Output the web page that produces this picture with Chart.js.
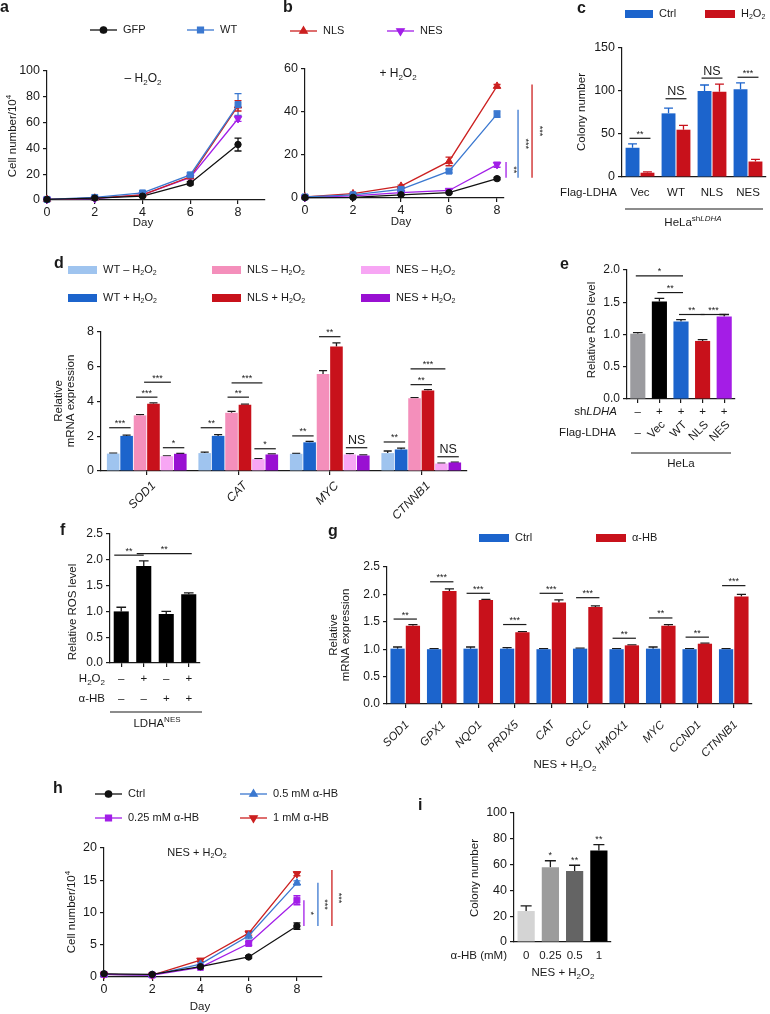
<!DOCTYPE html>
<html>
<head>
<meta charset="utf-8">
<script src="https://cdn.jsdelivr.net/npm/chart.js@4.4.0/dist/chart.umd.min.js"></script>
<style>
html, body { margin: 0; padding: 0; background: #fff; }
#wrap { position: relative; width: 770px; height: 1014px; overflow: hidden; }
#wrap canvas { position: absolute; left: 0; top: 0; }
</style>
</head>
<body>
<div id="wrap">
  <canvas id="pa" width="770" height="1014"></canvas>
  <canvas id="pb" width="770" height="1014"></canvas>
  <canvas id="pc" width="770" height="1014"></canvas>
  <canvas id="pd" width="770" height="1014"></canvas>
  <canvas id="pe" width="770" height="1014"></canvas>
  <canvas id="pf" width="770" height="1014"></canvas>
  <canvas id="pg" width="770" height="1014"></canvas>
  <canvas id="ph" width="770" height="1014"></canvas>
  <canvas id="pi" width="770" height="1014"></canvas>
</div>
<script>
// ---- data ----
// a / b: cell growth (cell number / 10^4)
const days = [0, 2, 4, 6, 8];
const curveNames = ['GFP', 'WT', 'NLS', 'NES'];
const gfpA = [0.5, 1.5, 3, 13, 43];
const wtA = [0.5, 2, 5.5, 19.5, 74];
const nlsA = [0.5, 1.5, 4, 18, 73];
const nesA = [0.5, 1, 4, 17.5, 63];
const gfpAErr = [0.3, 0.4, 0.6, 1.2, 5];
const wtAErr = [0.3, 0.4, 0.8, 1.5, 8.5];
const nlsAErr = [0.3, 0.4, 0.6, 1.2, 4];
const nesAErr = [0.2, 0.3, 0.5, 1, 2];
const gfpB = [0.2, 0.3, 1.5, 2.5, 9];
const wtB = [0.5, 1.5, 4, 12.5, 39];
const nlsB = [0.5, 2, 5.5, 17, 52];
const nesB = [0.3, 1, 2.5, 3.5, 15.5];
const gfpBErr = [0.1, 0.2, 0.3, 0.5, 0.6];
const wtBErr = [0.1, 0.3, 0.5, 0.8, 1.5];
const nlsBErr = [0.1, 0.3, 0.5, 2, 0.8];
const nesBErr = [0.1, 0.2, 0.3, 0.5, 1.2];

// c: colony number
const cGroups = ['Vec', 'WT', 'NLS', 'NES'];
const cCtrl = [34, 74, 100, 102];
const cCtrlErr = [4.5, 6, 7, 7.5];
const cH2o2 = [5, 55, 99, 18];
const cH2o2Err = [1, 5, 9, 2.5];
const cSig = ['**', 'NS', 'NS', '***'];
const cSigY = [45, 91, 115, 116];

// d: relative mRNA expression
const dGenes = ['SOD1', 'CAT', 'MYC', 'CTNNB1'];
const dSeries = ['WT – H_{2}O_{2}', 'WT + H_{2}O_{2}', 'NLS – H_{2}O_{2}', 'NLS + H_{2}O_{2}', 'NES – H_{2}O_{2}', 'NES + H_{2}O_{2}'];
const dWtMinus = [1.0, 1.03, 0.99, 1.03];
const dWtPlus = [2.02, 2.02, 1.65, 1.24];
const dNlsMinus = [3.2, 3.35, 5.58, 4.18];
const dNlsPlus = [3.87, 3.81, 7.17, 4.63];
const dNesMinus = [0.85, 0.68, 0.95, 0.43];
const dNesPlus = [0.99, 0.95, 0.89, 0.49];
const dWtMinusErr = [0.03, 0.06, 0.03, 0.12];
const dWtPlusErr = [0.05, 0.07, 0.05, 0.08];
const dNlsMinusErr = [0.04, 0.08, 0.2, 0.04];
const dNlsPlusErr = [0.05, 0.04, 0.2, 0.05];
const dNesMinusErr = [0.02, 0.03, 0.05, 0.02];
const dNesPlusErr = [0.03, 0.04, 0.04, 0.02];
// [gene, from bar, to bar, height, label]
const dSig = [
  [0, 0, 1, 2.49, '***'], [0, 2, 3, 4.25, '***'], [0, 2.6, 4, 5.11, '***'], [0, 4, 5, 1.34, '*'],
  [1, 0, 1, 2.49, '**'], [1, 2, 3, 4.25, '**'], [1, 2.3, 4, 5.07, '***'], [1, 4, 5, 1.28, '*'],
  [2, 0, 1, 2.02, '**'], [2, 2, 3, 7.73, '**'], [2, 4, 5, 1.34, 'NS'],
  [3, 0, 1, 1.67, '**'], [3, 2, 3, 4.97, '**'], [3, 2, 4, 5.88, '***'], [3, 4, 5, 0.82, 'NS']
];

// e: relative ROS level, HeLa
const eShLdha = ['–', '+', '+', '+', '+'];
const eFlag = ['–', 'Vec', 'WT', 'NLS', 'NES'];
const eRos = [1.01, 1.51, 1.2, 0.9, 1.28];
const eErr = [0.02, 0.05, 0.03, 0.02, 0.03];
const eSig = [[0, 2, 1.91, '*'], [1, 2, 1.65, '**'], [2, 3, 1.31, '**'], [3, 4, 1.31, '***']];

// f: relative ROS level, LDHA-NES
const fH2o2 = ['–', '+', '–', '+'];
const fAhb = ['–', '–', '+', '+'];
const fRos = [1.0, 1.88, 0.95, 1.33];
const fErr = [0.08, 0.1, 0.05, 0.03];
const fSig = [[0, 1, 2.09, '**'], [1, 3, 2.12, '**']];

// g: relative mRNA expression, NES + H2O2
const gGenes = ['SOD1', 'GPX1', 'NQO1', 'PRDX5', 'CAT', 'GCLC', 'HMOX1', 'MYC', 'CCND1', 'CTNNB1'];
const gCtrl = [1.01, 1.0, 1.01, 1.01, 1.0, 1.01, 1.0, 1.01, 1.0, 1.0];
const gCtrlErr = [0.03, 0.01, 0.03, 0.02, 0.01, 0.01, 0.01, 0.03, 0.01, 0.01];
const gAhb = [1.43, 2.06, 1.9, 1.31, 1.85, 1.77, 1.07, 1.43, 1.1, 1.96];
const gAhbErr = [0.02, 0.04, 0.01, 0.01, 0.05, 0.02, 0.01, 0.02, 0.01, 0.04];
const gSig = ['**', '***', '***', '***', '***', '***', '**', '**', '**', '***'];
const gSigY = [1.55, 2.23, 2.02, 1.45, 2.02, 1.94, 1.2, 1.57, 1.22, 2.16];

// h: cell growth with alpha-HB
const hNames = ['Ctrl', '0.25 mM α-HB', '0.5 mM α-HB', '1 mM α-HB'];
const hCtrl = [0.5, 0.4, 1.6, 3.1, 7.9];
const hQuarter = [0.4, 0.3, 1.5, 5.2, 11.9];
const hHalf = [0.4, 0.3, 2.0, 6.4, 14.6];
const hOne = [0.4, 0.3, 2.6, 6.8, 16.0];
const hCtrlErr = [0.1, 0.1, 0.2, 0.2, 0.5];
const hQuarterErr = [0.1, 0.1, 0.2, 0.3, 0.7];
const hHalfErr = [0.1, 0.1, 0.2, 0.5, 0.3];
const hOneErr = [0.1, 0.1, 0.2, 0.3, 0.3];

// i: colony number vs alpha-HB dose
const iDoses = ['0', '0.25', '0.5', '1'];
const iColony = [24, 58, 55, 71];
const iErr = [4, 5, 4.5, 4.5];
const iSig = ['', '*', '**', '**'];

// ---- look ----
const FONT = '"Liberation Sans", Arial, Helvetica, sans-serif';
const INK = '#1a1a1a';
const BLUE = '#1c64cc', RED = '#c8111b';
const LBLACK = '#111111', LBLUE = '#3b78d0', LRED = '#cc2020', LPURPLE = '#a21ee8';
const TICK = 12.5, TITLE = 11.5;
Chart.defaults.font.family = FONT;
Chart.defaults.color = INK;

// rich text: _{sub} ^{sup} *{italic}
function parseRich(s) {
  const out = [], stack = [];
  let cur = { sub: false, sup: false, it: false };
  for (let i = 0; i < s.length; i++) {
    const ch = s[i];
    if ((ch === '_' || ch === '^' || ch === '*') && s[i + 1] === '{') {
      stack.push(cur);
      cur = { sub: cur.sub || ch === '_', sup: cur.sup || ch === '^', it: cur.it || ch === '*' };
      i++;
      continue;
    }
    if (ch === '}' && stack.length) { cur = stack.pop(); continue; }
    const last = out[out.length - 1];
    if (last && last.sub === cur.sub && last.sup === cur.sup && last.it === cur.it) last.t += ch;
    else out.push({ t: ch, sub: cur.sub, sup: cur.sup, it: cur.it });
  }
  return out;
}

function drawRich(ctx, s, x, y, o) {
  o = o || {};
  const size = o.size || 11;
  const segs = parseRich(s);
  const fontOf = g => (g.it || o.italic ? 'italic ' : '') + (o.bold ? 'bold ' : '') +
    ((g.sub || g.sup) ? Math.round(size * 0.68) : size) + 'px ' + FONT;
  let w = 0;
  segs.forEach(g => { ctx.font = fontOf(g); g.w = ctx.measureText(g.t).width; w += g.w; });
  ctx.save();
  ctx.translate(x, y);
  if (o.rot) ctx.rotate(o.rot);
  let cx = o.align === 'center' ? -w / 2 : o.align === 'right' ? -w : 0;
  ctx.fillStyle = o.color || INK;
  ctx.textBaseline = 'middle';
  ctx.textAlign = 'left';
  segs.forEach(g => {
    ctx.font = fontOf(g);
    const dy = g.sub ? size * 0.32 : g.sup ? -size * 0.38 : 0;
    ctx.fillText(g.t, cx, dy);
    cx += g.w;
  });
  ctx.restore();
  return w;
}

function panelTag(ctx, t, x, y) {
  drawRich(ctx, t, x, y, { size: 16, bold: true });
}

function hLine(ctx, x1, x2, y, color) {
  ctx.save();
  ctx.strokeStyle = color || INK;
  ctx.lineWidth = 1.2;
  ctx.beginPath(); ctx.moveTo(x1, y); ctx.lineTo(x2, y); ctx.stroke();
  ctx.restore();
}

function sigBar(ctx, x1, x2, y, label) {
  hLine(ctx, x1, x2, y);
  if (label === 'NS') drawRich(ctx, label, (x1 + x2) / 2, y - 7, { size: 12.5, align: 'center' });
  else drawRich(ctx, label, (x1 + x2) / 2, y - 4, { size: 9, align: 'center' });
}

// vertical significance line next to the day-8 points
function vSig(ctx, x, y1, y2, label, color) {
  ctx.save();
  ctx.strokeStyle = color; ctx.lineWidth = 1.3;
  ctx.beginPath(); ctx.moveTo(x, y1); ctx.lineTo(x, y2); ctx.stroke();
  ctx.restore();
  drawRich(ctx, label, x + 7, (y1 + y2) / 2, { size: 9, align: 'center', rot: Math.PI / 2 });
}

function boxKey(ctx, color, label, x, y, w) {
  ctx.fillStyle = color;
  ctx.fillRect(x, y - 4, w, 8);
  drawRich(ctx, label, x + w + 6, y, { size: 11 });
}

function lineKey(ctx, ds, x, y, len) {
  ctx.save();
  ctx.strokeStyle = ds.borderColor; ctx.lineWidth = 1.3;
  ctx.beginPath(); ctx.moveTo(x, y); ctx.lineTo(x + len, y); ctx.stroke();
  ctx.fillStyle = ds.borderColor;
  Chart.helpers.drawPoint(ctx, { pointStyle: ds.pointStyle, rotation: ds.pointRotation || 0,
    radius: ds.pointRadius, borderWidth: 1 }, x + len / 2, y);
  ctx.restore();
  drawRich(ctx, ds.label, x + len + 6, y, { size: 11 });
}

function barX(c, di, i) {
  const lo = Math.floor(di), hi = Math.ceil(di), f = di - lo;
  const a = c.getDatasetMeta(lo).data[i].x, b = c.getDatasetMeta(hi).data[i].x;
  return a + (b - a) * f;
}

// error bars (bars: upward only, lines: both ways)
const errorBars = {
  id: 'errorBars',
  beforeDatasetsDraw(chart) {
    const ctx = chart.ctx, ys = chart.scales.y;
    chart.data.datasets.forEach((ds, di) => {
      if (!ds.errors) return;
      const meta = chart.getDatasetMeta(di);
      const isLine = meta.type === 'line';
      meta.data.forEach((el, i) => {
        const raw = ds.data[i];
        const v = typeof raw === 'object' ? raw.y : raw;
        const e = ds.errors[i];
        const yTop = ys.getPixelForValue(v + e);
        const yBot = isLine ? ys.getPixelForValue(v - e) : el.y;
        const half = isLine ? 3.5 : el.width * 0.32;
        ctx.save();
        ctx.strokeStyle = ds.errColor || ds.borderColor || INK;
        ctx.lineWidth = 1.3;
        ctx.beginPath();
        ctx.moveTo(el.x, yBot); ctx.lineTo(el.x, yTop);
        ctx.moveTo(el.x - half, yTop); ctx.lineTo(el.x + half, yTop);
        if (isLine) { ctx.moveTo(el.x - half, yBot); ctx.lineTo(el.x + half, yBot); }
        ctx.stroke();
        ctx.restore();
      });
    });
  }
};

// ---- axes ----
function yAxis(max, step, dec) {
  return {
    min: 0, max: max,
    ticks: { stepSize: step, font: { size: dec ? 12 : TICK }, color: INK, padding: 3,
      callback: v => dec ? v.toFixed(dec) : String(v) },
    grid: { drawOnChartArea: false, tickLength: 4, color: INK, lineWidth: 1.2 },
    border: { color: INK, width: 1.2 },
    afterFit: s => { s.width = 44; }
  };
}

function dayAxis(max) {
  return {
    type: 'linear', min: 0, max: max,
    ticks: { stepSize: 2, includeBounds: false, font: { size: TICK }, color: INK, padding: 1,
      callback: v => (v % 2 === 0 && v <= 8) ? String(v) : null },
    grid: { drawOnChartArea: false, tickLength: 4, color: INK, lineWidth: 1.2 },
    border: { color: INK, width: 1.2 },
    afterFit: s => { s.height = 24; }
  };
}

function catAxis(marks) {
  return {
    type: 'category', offset: true,
    ticks: { display: false },
    grid: { display: marks, offset: false, drawOnChartArea: false, tickLength: 4, color: INK, lineWidth: 1.2 },
    border: { color: INK, width: 1.2 },
    afterFit: s => { s.height = 24; }
  };
}

// every chart uses a full-page canvas; area = [left, top, right, bottom] of the plot box
function makeChart(id, type, data, area, xScale, yScale, notes) {
  return new Chart(document.getElementById(id), {
    type: type,
    data: data,
    options: {
      responsive: false,
      animation: false,
      events: [],
      layout: { padding: { left: area[0] - 44, top: area[1], right: 770 - area[2], bottom: 1014 - area[3] - 24 } },
      plugins: { legend: { display: false }, tooltip: { enabled: false } },
      scales: { x: xScale, y: yScale }
    },
    plugins: [errorBars, { id: 'notes', afterDraw: c => notes(c, c.ctx) }]
  });
}

function curve(label, vals, errs, color, style, rot, r) {
  return {
    label: label,
    data: days.map((d, i) => ({ x: d, y: vals[i] })),
    errors: errs,
    borderColor: color, backgroundColor: color,
    pointBackgroundColor: color, pointBorderColor: color,
    pointStyle: style, pointRotation: rot, pointRadius: r, pointBorderWidth: 1,
    borderWidth: 1.3, tension: 0, clip: false
  };
}

function barSet(label, vals, errs, color, catPct, barPct, errColor) {
  return {
    label: label, data: vals, errors: errs,
    backgroundColor: color, borderWidth: 0,
    categoryPercentage: catPct, barPercentage: barPct,
    errColor: errColor
  };
}

// ---- a ----
makeChart('pa', 'line', {
  datasets: [
    curve(curveNames[0], gfpA, gfpAErr, LBLACK, 'circle', 0, 3.2),
    curve(curveNames[1], wtA, wtAErr, LBLUE, 'rect', 0, 4.2),
    curve(curveNames[2], nlsA, nlsAErr, LRED, 'triangle', 0, 4.3),
    curve(curveNames[3], nesA, nesAErr, LPURPLE, 'triangle', 180, 4.3)
  ]
}, [47, 71, 265, 200], dayAxis(9.13), yAxis(100, 20), (c, ctx) => {
  panelTag(ctx, 'a', 0, 8);
  lineKey(ctx, c.data.datasets[0], 90, 30, 27);
  lineKey(ctx, c.data.datasets[1], 187, 30, 27);
  drawRich(ctx, '– H_{2}O_{2}', 143, 79, { align: 'center', size: 12 });
  drawRich(ctx, 'Cell number/10^{4}', 13, 136, { align: 'center', rot: -Math.PI / 2, size: TITLE });
  drawRich(ctx, 'Day', 143, 223, { align: 'center', size: TITLE });
});

// ---- b ----
makeChart('pb', 'line', {
  datasets: [
    curve(curveNames[0], gfpB, gfpBErr, LBLACK, 'circle', 0, 3.2),
    curve(curveNames[1], wtB, wtBErr, LBLUE, 'rect', 0, 4.2),
    curve(curveNames[2], nlsB, nlsBErr, LRED, 'triangle', 0, 4.3),
    curve(curveNames[3], nesB, nesBErr, LPURPLE, 'triangle', 180, 4.3)
  ]
}, [305, 69, 504, 198], dayAxis(8.29), yAxis(60, 20), (c, ctx) => {
  panelTag(ctx, 'b', 283, 8);
  lineKey(ctx, c.data.datasets[2], 290, 31, 27);
  lineKey(ctx, c.data.datasets[3], 387, 31, 27);
  drawRich(ctx, '+ H_{2}O_{2}', 398, 74, { align: 'center', size: 12 });
  drawRich(ctx, 'Day', 401, 222, { align: 'center', size: TITLE });
  const x8 = c.scales.x.getPixelForValue(8), ys = c.scales.y;
  const base = ys.getPixelForValue(gfpB[4]) - 1;
  vSig(ctx, x8 + 9, base, ys.getPixelForValue(nesB[4] + nesBErr[4]), '**', LPURPLE);
  vSig(ctx, x8 + 21, base, ys.getPixelForValue(wtB[4] + wtBErr[4] + 0.5), '***', LBLUE);
  vSig(ctx, x8 + 35, base, ys.getPixelForValue(nlsB[4] + nlsBErr[4]), '***', LRED);
});

// ---- c ----
makeChart('pc', 'bar', {
  labels: cGroups,
  datasets: [
    barSet('Ctrl', cCtrl, cCtrlErr, BLUE, 0.83, 0.93, BLUE),
    barSet('H_{2}O_{2}', cH2o2, cH2o2Err, RED, 0.83, 0.93, RED)
  ]
}, [622, 48, 766, 177], catAxis(false), yAxis(150, 50), (c, ctx) => {
  panelTag(ctx, 'c', 577, 9);
  boxKey(ctx, BLUE, c.data.datasets[0].label, 625, 14, 28);
  boxKey(ctx, RED, c.data.datasets[1].label, 705, 14, 30);
  drawRich(ctx, 'Colony number', 582, 112, { align: 'center', rot: -Math.PI / 2, size: TITLE });
  const ys = c.scales.y;
  cGroups.forEach((g, i) => {
    sigBar(ctx, barX(c, 0, i) - 3, barX(c, 1, i) + 3, ys.getPixelForValue(cSigY[i]), cSig[i]);
    drawRich(ctx, g, c.scales.x.getPixelForValue(i), 193, { align: 'center', size: TITLE });
  });
  drawRich(ctx, 'Flag-LDHA', 617, 193, { align: 'right', size: TITLE });
  hLine(ctx, 625, 763, 209);
  drawRich(ctx, 'HeLa^{sh*{LDHA}}', 693, 223, { align: 'center', size: TITLE });
});

// ---- d ----
const dColors = ['#9fc4ef', BLUE, '#f48fbb', RED, '#f7a6f4', '#9910d2'];
const dVals = [dWtMinus, dWtPlus, dNlsMinus, dNlsPlus, dNesMinus, dNesPlus];
const dErrs = [dWtMinusErr, dWtPlusErr, dNlsMinusErr, dNlsPlusErr, dNesMinusErr, dNesPlusErr];
makeChart('pd', 'bar', {
  labels: dGenes,
  datasets: dSeries.map((s, k) => barSet(s, dVals[k], dErrs[k], dColors[k], 0.88, 0.94, INK))
}, [101, 332, 467, 471], catAxis(true), yAxis(8, 2), (c, ctx) => {
  panelTag(ctx, 'd', 54, 264);
  const cols = [68, 212, 361];
  c.data.datasets.forEach((ds, k) => {
    boxKey(ctx, ds.backgroundColor, ds.label, cols[Math.floor(k / 2)], k % 2 ? 298 : 270, 29);
  });
  drawRich(ctx, 'Relative', 59, 401, { align: 'center', rot: -Math.PI / 2, size: TITLE });
  drawRich(ctx, 'mRNA expression', 71, 401, { align: 'center', rot: -Math.PI / 2, size: TITLE });
  const ys = c.scales.y;
  dSig.forEach(s => {
    sigBar(ctx, barX(c, s[1], s[0]) - 4, barX(c, s[2], s[0]) + 4, ys.getPixelForValue(s[3]), s[4]);
  });
  dGenes.forEach((g, i) => {
    const x = c.scales.x.getPixelForValue(i);
    drawRich(ctx, g, x + 7, 484, { align: 'right', rot: -Math.PI / 4, size: 12, italic: true });
  });
});

// ---- e ----
makeChart('pe', 'bar', {
  labels: eFlag,
  datasets: [barSet('ROS', eRos, eErr, ['#9b9b9f', '#000000', BLUE, RED, '#a41de6'], 1, 0.7, INK)]
}, [627, 270, 735, 399], catAxis(true), yAxis(2, 0.5, 1), (c, ctx) => {
  panelTag(ctx, 'e', 560, 265);
  drawRich(ctx, 'Relative ROS level', 592, 330, { align: 'center', rot: -Math.PI / 2, size: TITLE });
  const ys = c.scales.y;
  eSig.forEach(s => {
    sigBar(ctx, barX(c, 0, s[0]) - 2, barX(c, 0, s[1]) + 2, ys.getPixelForValue(s[2]), s[3]);
  });
  drawRich(ctx, 'sh*{LDHA}', 617, 412, { align: 'right', size: TITLE });
  drawRich(ctx, 'Flag-LDHA', 616, 433, { align: 'right', size: TITLE });
  eFlag.forEach((g, i) => {
    const x = c.scales.x.getPixelForValue(i);
    drawRich(ctx, eShLdha[i], x, 412, { align: 'center', size: TITLE });
    if (g.length > 1) drawRich(ctx, g, x + 4, 423, { align: 'right', rot: -Math.PI / 4, size: TITLE });
    else drawRich(ctx, g, x, 433, { align: 'center', size: TITLE });
  });
  hLine(ctx, 631, 731, 453);
  drawRich(ctx, 'HeLa', 681, 464, { align: 'center', size: TITLE });
});

// ---- f ----
makeChart('pf', 'bar', {
  labels: fH2o2.map((h, i) => h + fAhb[i]),
  datasets: [barSet('ROS', fRos, fErr, '#000000', 1, 0.67, INK)]
}, [110, 534, 200, 663], catAxis(true), yAxis(2.5, 0.5, 1), (c, ctx) => {
  panelTag(ctx, 'f', 60, 531);
  drawRich(ctx, 'Relative ROS level', 73, 612, { align: 'center', rot: -Math.PI / 2, size: TITLE });
  const ys = c.scales.y;
  fSig.forEach(s => {
    sigBar(ctx, barX(c, 0, s[0]) - 7, barX(c, 0, s[1]) + (s[1] === 3 ? 3 : 0), ys.getPixelForValue(s[2]), s[3]);
  });
  drawRich(ctx, 'H_{2}O_{2}', 105, 679, { align: 'right', size: TITLE });
  drawRich(ctx, 'α-HB', 105, 699, { align: 'right', size: TITLE });
  fH2o2.forEach((h, i) => {
    const x = c.scales.x.getPixelForValue(i);
    drawRich(ctx, h, x, 679, { align: 'center', size: TITLE });
    drawRich(ctx, fAhb[i], x, 699, { align: 'center', size: TITLE });
  });
  hLine(ctx, 110, 202, 712);
  drawRich(ctx, 'LDHA^{NES}', 157, 724, { align: 'center', size: TITLE });
});

// ---- g ----
makeChart('pg', 'bar', {
  labels: gGenes,
  datasets: [
    barSet('Ctrl', gCtrl, gCtrlErr, BLUE, 0.84, 0.93, INK),
    barSet('α-HB', gAhb, gAhbErr, RED, 0.84, 0.93, INK)
  ]
}, [387, 567, 752, 704], catAxis(true), yAxis(2.5, 0.5, 1), (c, ctx) => {
  panelTag(ctx, 'g', 328, 532);
  boxKey(ctx, BLUE, c.data.datasets[0].label, 479, 538, 30);
  boxKey(ctx, RED, c.data.datasets[1].label, 596, 538, 30);
  drawRich(ctx, 'Relative', 334, 635, { align: 'center', rot: -Math.PI / 2, size: TITLE });
  drawRich(ctx, 'mRNA expression', 346, 635, { align: 'center', rot: -Math.PI / 2, size: TITLE });
  const ys = c.scales.y;
  gGenes.forEach((g, i) => {
    sigBar(ctx, barX(c, 0, i) - 4, barX(c, 1, i) + 4, ys.getPixelForValue(gSigY[i]), gSig[i]);
    const x = c.scales.x.getPixelForValue(i);
    drawRich(ctx, g, x + 2, 723, { align: 'right', rot: -Math.PI / 4, italic: true, size: TITLE });
  });
  drawRich(ctx, 'NES + H_{2}O_{2}', 565, 765, { align: 'center', size: TITLE });
});

// ---- h ----
makeChart('ph', 'line', {
  datasets: [
    curve(hNames[0], hCtrl, hCtrlErr, LBLACK, 'circle', 0, 3.2),
    curve(hNames[1], hQuarter, hQuarterErr, LPURPLE, 'rect', 0, 4.2),
    curve(hNames[2], hHalf, hHalfErr, LBLUE, 'triangle', 0, 4.3),
    curve(hNames[3], hOne, hOneErr, LRED, 'triangle', 180, 4.3)
  ]
}, [104, 848, 322, 977], dayAxis(9.04), yAxis(20, 5), (c, ctx) => {
  panelTag(ctx, 'h', 53, 789);
  const ds = c.data.datasets;
  lineKey(ctx, ds[0], 95, 794, 27);
  lineKey(ctx, ds[2], 240, 794, 27);
  lineKey(ctx, ds[1], 95, 818, 27);
  lineKey(ctx, ds[3], 240, 818, 27);
  drawRich(ctx, 'NES + H_{2}O_{2}', 197, 853, { align: 'center' });
  drawRich(ctx, 'Cell number/10^{4}', 72, 912, { align: 'center', rot: -Math.PI / 2, size: TITLE });
  drawRich(ctx, 'Day', 200, 1007, { align: 'center', size: TITLE });
  const x8 = c.scales.x.getPixelForValue(8), ys = c.scales.y;
  const base = ys.getPixelForValue(hCtrl[4]);
  vSig(ctx, x8 + 7, base, ys.getPixelForValue(hQuarter[4]), '*', LPURPLE);
  vSig(ctx, x8 + 21, base, ys.getPixelForValue(hHalf[4]), '***', LBLUE);
  vSig(ctx, x8 + 35, base, ys.getPixelForValue(hOne[4] + 0.6), '***', LRED);
});

// ---- i ----
makeChart('pi', 'bar', {
  labels: iDoses,
  datasets: [barSet('Colony', iColony, iErr, ['#d4d4d4', '#9c9c9c', '#646464', '#000000'], 1, 0.71, INK)]
}, [514, 813, 611, 942], catAxis(false), yAxis(100, 20), (c, ctx) => {
  panelTag(ctx, 'i', 418, 806);
  drawRich(ctx, 'Colony number', 475, 878, { align: 'center', rot: -Math.PI / 2, size: TITLE });
  const ys = c.scales.y;
  iDoses.forEach((d, i) => {
    const x = c.scales.x.getPixelForValue(i);
    if (iSig[i]) drawRich(ctx, iSig[i], x, ys.getPixelForValue(iColony[i] + iErr[i]) - 5, { size: 9, align: 'center' });
    drawRich(ctx, d, x, 956, { align: 'center', size: TITLE });
  });
  drawRich(ctx, 'α-HB (mM)', 507, 956, { align: 'right', size: TITLE });
  drawRich(ctx, 'NES + H_{2}O_{2}', 563, 973, { align: 'center', size: TITLE });
});
</script>
</body>
</html>
